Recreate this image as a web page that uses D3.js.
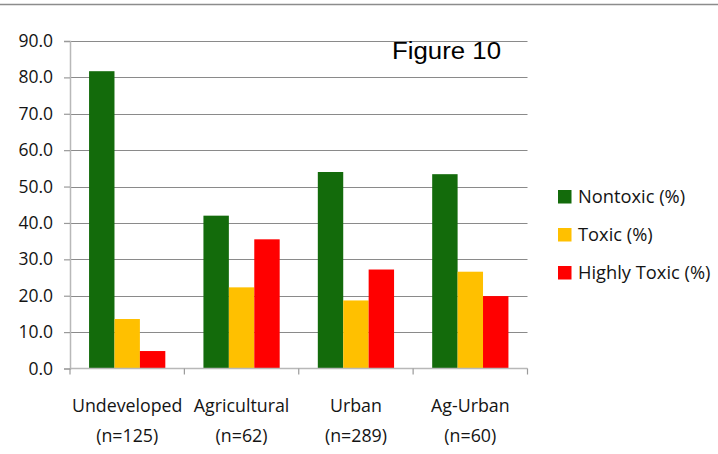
<!DOCTYPE html>
<html>
<head>
<meta charset="utf-8">
<script src="https://cdn.jsdelivr.net/npm/d3@7"></script>
<style>
  html, body { margin: 0; padding: 0; background: #fff; }
  svg { display: block; }
</style>
</head>
<body>
<svg id="chart" width="718" height="454"></svg>
<script>
// Toxicity by land-use category (percent of samples)
const categories = ["Undeveloped", "Agricultural", "Urban", "Ag-Urban"];
const sampleSizes = ["(n=125)", "(n=62)", "(n=289)", "(n=60)"];
const seriesNames = ["Nontoxic (%)", "Toxic (%)", "Highly Toxic (%)"];
const nontoxic = [81.7, 42.0, 54.0, 53.4];
const toxic = [13.6, 22.3, 18.7, 26.6];
const highlyToxic = [4.8, 35.5, 27.2, 19.9];
const yTicks = [0, 10, 20, 30, 40, 50, 60, 70, 80, 90];
const seriesColors = ["#136b0b", "#ffc000", "#ff0000"];

const series = [nontoxic, toxic, highlyToxic];
const svg = d3.select("#chart");
const plot = { left: 70, right: 527.5, top: 41, bottom: 368.5 };
const labelFont = "'Open Sans', 'DejaVu Sans', sans-serif";
const textColor = "#141414";

// top rule
svg.append("line")
  .attr("x1", 0).attr("x2", 718).attr("y1", 4.5).attr("y2", 4.5)
  .attr("stroke", "#8c8c8c").attr("stroke-width", 1.5);

const x = d3.scaleBand().domain(categories).range([plot.left, plot.right]).paddingInner(0).paddingOuter(0);
const y = d3.scaleLinear().domain([0, 90]).range([plot.bottom, plot.top]);
const groupPad = 1.5 / (3 + 1.5); // 150% gap between clusters
const inner = d3.scaleBand().domain(d3.range(3))
  .range([x.bandwidth() * groupPad / 2, x.bandwidth() * (1 - groupPad / 2)]).padding(0);

// gridlines
svg.append("g").selectAll("line").data(yTicks.filter(t => t > 0)).join("line")
  .attr("x1", plot.left).attr("x2", plot.right)
  .attr("y1", d => Math.round(y(d)) + 0.5).attr("y2", d => Math.round(y(d)) + 0.5)
  .attr("stroke", "#8a8a8a").attr("stroke-width", 1.2);

// y axis
const yAxis = d3.axisLeft(y).tickValues(yTicks).tickFormat(d3.format(".1f")).tickSize(6).tickPadding(11);
const gy = svg.append("g").attr("transform", `translate(${plot.left},0)`).call(yAxis);
gy.select(".domain").attr("stroke", "#b8b8b8").attr("stroke-width", 1.5);
gy.selectAll(".tick line").attr("stroke", "#9a9a9a").attr("stroke-width", 1.2);
gy.selectAll(".tick text").attr("font-family", labelFont).attr("font-size", 17.5).attr("fill", textColor);

// bars
const groups = svg.append("g").selectAll("g").data(categories).join("g")
  .attr("transform", d => `translate(${x(d)},0)`);
groups.selectAll("rect").data((d, i) => series.map((s, k) => ({ k, v: s[i] }))).join("rect")
  .attr("x", d => inner(d.k)).attr("width", inner.bandwidth())
  .attr("y", d => y(d.v)).attr("height", d => y(0) - y(d.v))
  .attr("fill", d => seriesColors[d.k]);

// x axis
const gx = svg.append("g").attr("transform", `translate(0,${plot.bottom})`);
gx.append("line").attr("x1", plot.left).attr("x2", plot.right).attr("y1", 0).attr("y2", 0)
  .attr("stroke", "#b8b8b8").attr("stroke-width", 1.5);
gx.selectAll("line.tk").data(d3.range(categories.length + 1)).join("line").attr("class", "tk")
  .attr("x1", i => plot.left + i * x.bandwidth()).attr("x2", i => plot.left + i * x.bandwidth())
  .attr("y1", 0).attr("y2", 6).attr("stroke", "#9a9a9a").attr("stroke-width", 1.2);
const cl = gx.selectAll("text").data(categories).join("text")
  .attr("x", d => x(d) + x.bandwidth() / 2)
  .attr("text-anchor", "middle").attr("font-family", labelFont).attr("font-size", 17.8).attr("fill", textColor);
cl.append("tspan").attr("x", d => x(d) + x.bandwidth() / 2).attr("y", 43).text(d => d);
cl.append("tspan").attr("x", d => x(d) + x.bandwidth() / 2).attr("y", 73).text((d, i) => sampleSizes[i]);

// figure title
svg.append("text").attr("x", 392).attr("y", 58.5).text("Figure 10")
  .attr("font-family", "'Liberation Sans', Arial, sans-serif").attr("font-size", 23.5)
  .attr("textLength", 109).attr("lengthAdjust", "spacingAndGlyphs").attr("fill", "#000");

// legend
const legend = svg.append("g").selectAll("g").data(seriesNames).join("g")
  .attr("transform", (d, i) => `translate(558,${190 + i * 38})`);
legend.append("rect").attr("width", 13.5).attr("height", 13.5).attr("fill", (d, i) => seriesColors[i]);
legend.append("text").attr("x", 20).attr("y", 13).text(d => d)
  .attr("font-family", labelFont).attr("font-size", 18.3).attr("fill", textColor);
</script>
</body>
</html>
